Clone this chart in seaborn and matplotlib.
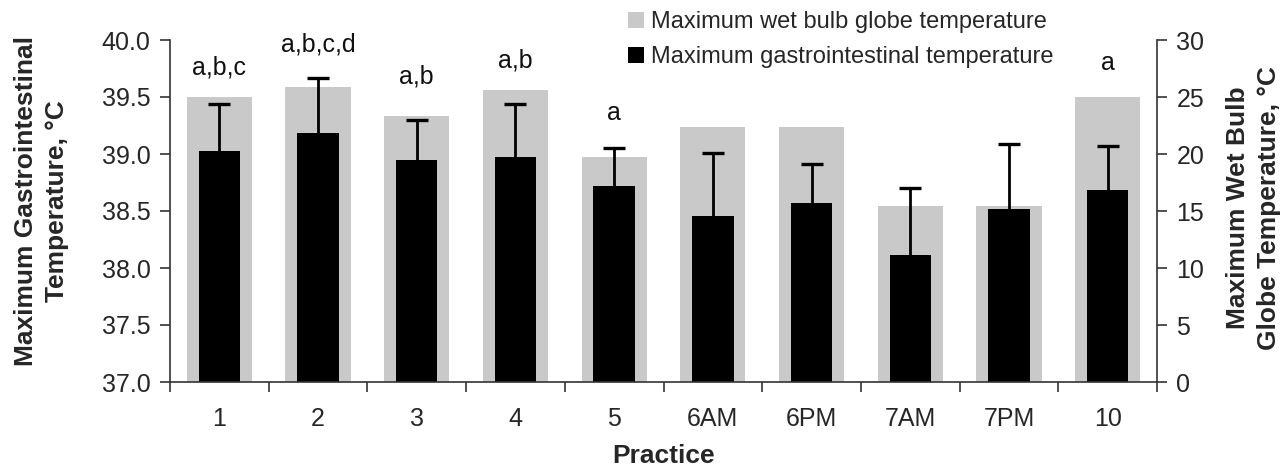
import numpy as np
import pandas as pd
import matplotlib
matplotlib.use("Agg")
import matplotlib.pyplot as plt
import seaborn as sns
from matplotlib.patches import Patch

# ---- data ----
practices = ["1", "2", "3", "4", "5", "6AM", "6PM", "7AM", "7PM", "10"]
gi_temp = [39.03, 39.18, 38.95, 38.97, 38.72, 38.46, 38.57, 38.11, 38.52, 38.68]
gi_sd = [0.41, 0.49, 0.35, 0.47, 0.33, 0.55, 0.34, 0.59, 0.57, 0.39]
wbgt = [25.0, 25.85, 23.35, 25.65, 19.7, 22.35, 22.35, 15.45, 15.45, 25.0]
sig_labels = ["a,b,c", "a,b,c,d", "a,b", "a,b", "a", "", "", "", "", "a"]
sig_label_y = [39.76, 39.96, 39.68, 39.82, 39.36, None, None, None, None, 39.80]

gi_ticks = [37.0, 37.5, 38.0, 38.5, 39.0, 39.5, 40.0]
wbgt_ticks = [0, 5, 10, 15, 20, 25, 30]

df = pd.DataFrame({"Practice": practices, "GI": gi_temp, "SD": gi_sd, "WBGT": wbgt})

sns.set_style("ticks")
plt.rcParams["font.family"] = ["Liberation Sans", "DejaVu Sans"]

GRAY = "#c9c9c9"
BLACK = "#000000"
FS = 18
LFS = 19

fig = plt.figure(figsize=(12.87, 4.71), dpi=100)
ax = fig.add_axes([170 / 1287, 1 - 382 / 471, (1157 - 170) / 1287, (382 - 40) / 471])
ax2 = ax.twinx()
ax.set_zorder(ax2.get_zorder() + 1)
ax.patch.set_visible(False)

sns.barplot(data=df, x="Practice", y="WBGT", order=practices, color=GRAY,
            width=0.66, errorbar=None, ax=ax2, saturation=1, linewidth=0)
sns.barplot(data=df, x="Practice", y="GI", order=practices, color=BLACK,
            width=0.42, errorbar=None, ax=ax, saturation=1, linewidth=0)

# bars start from 37.0 baseline on the left axis
for p, v in zip(ax.patches, gi_temp):
    p.set_y(37.0)
    p.set_height(v - 37.0)

centers = [p.get_x() + p.get_width() / 2 for p in ax.patches]
eb = ax.errorbar(centers, gi_temp, yerr=[np.zeros(len(gi_sd)), gi_sd], fmt="none",
                 ecolor=BLACK, elinewidth=2.0, capsize=8, capthick=2.4, zorder=5)
# upper caps only
eb[1][0].set_visible(False)

for c, lab, ly in zip(centers, sig_labels, sig_label_y):
    if lab:
        ax.text(c, ly, lab, ha="center", va="center", fontsize=FS, color="#111111")

ax.set_ylim(37.0, 40.0)
ax.set_yticks(gi_ticks)
ax.set_yticklabels([f"{t:.1f}" for t in gi_ticks])
ax2.set_ylim(0, 30)
ax2.set_yticks(wbgt_ticks)
ax2.set_yticklabels([str(t) for t in wbgt_ticks])
ax.set_xlim(-0.5, len(practices) - 0.5)

ax.set_xticks(range(len(practices)))
ax.set_xticklabels(practices)
ax.set_xticks(np.arange(-0.5, len(practices), 1.0), minor=True)
ax.tick_params(axis="x", which="major", length=0, pad=18, labelsize=FS)
ax.tick_params(axis="x", which="minor", length=7, width=1.2, direction="out", color="#333333")
ax.tick_params(axis="y", length=7, width=1.2, direction="out", pad=7, labelsize=FS, color="#333333")
ax2.tick_params(axis="y", length=7, width=1.2, direction="out", pad=7, labelsize=FS, color="#333333")

for a in (ax, ax2):
    a.spines["top"].set_visible(False)
    for s in ("left", "right", "bottom"):
        a.spines[s].set_linewidth(1.2)
        a.spines[s].set_color("#333333")
ax.spines["right"].set_visible(False)
ax2.spines["left"].set_visible(False)
ax2.spines["bottom"].set_visible(False)

ax.set_xlabel("Practice", fontsize=LFS, fontweight="bold")
ax.xaxis.label.set_va("center")
ax.xaxis.set_label_coords(0.5, (382 - 456) / 342)

ax.set_ylabel("Maximum Gastrointestinal\nTemperature, °C", fontsize=LFS,
              fontweight="bold", linespacing=1.4)
ax.yaxis.label.set_va("center")
ax.yaxis.set_label_coords((41.5 - 170) / 987, (382 - 201) / 342)

ax2.set_ylabel("Maximum Wet Bulb\nGlobe Temperature, °C", fontsize=LFS,
               fontweight="bold", linespacing=1.4)
ax2.yaxis.set_label_position("right")
ax2.yaxis.label.set_rotation(90)
ax2.yaxis.label.set_va("center")
ax2.yaxis.label.set_ha("center")
ax2.yaxis.set_label_coords((1253.5 - 170) / 987, (382 - 208) / 342)

handles = [Patch(facecolor=GRAY, edgecolor="none", label="Maximum wet bulb globe temperature"),
           Patch(facecolor=BLACK, edgecolor="none", label="Maximum gastrointestinal temperature")]
fig.legend(handles=handles, loc="upper left", bbox_to_anchor=(619 / 1287, 1 - 2 / 471),
           frameon=False, fontsize=17, handlelength=0.65, handleheight=0.65,
           handletextpad=0.3, labelspacing=0.55, borderaxespad=0)

fig.savefig("out.png", dpi=100)
